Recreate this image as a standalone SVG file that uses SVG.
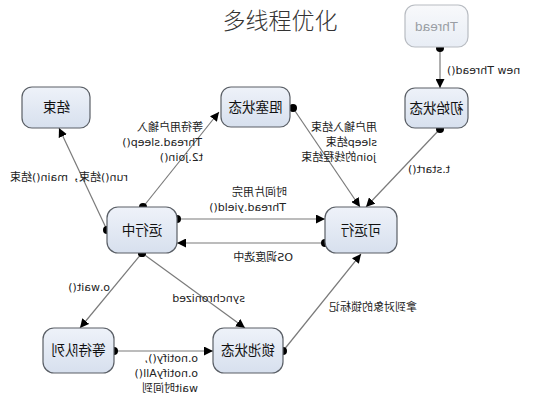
<svg xmlns="http://www.w3.org/2000/svg" width="560" height="400" viewBox="0 0 560 400">
<style>
text{font-family:"Liberation Sans","Noto Sans CJK SC",sans-serif;}
.mt{transform-box:fill-box;transform-origin:center;transform:scaleX(-1);}
.node rect{fill:url(#g);stroke:#5a5f66;stroke-width:1.2;}
.node text{font-size:13.5px;fill:#111;text-anchor:middle;}
.faded rect{fill:url(#gf);stroke:#b8bcc2;}
.faded text{fill:#9a9ea4;}
.edges line{stroke:#7a7a7a;stroke-width:1.2;marker-start:url(#dot);marker-end:url(#arr);}
.lbl{font-family:"DejaVu Sans","Noto Sans CJK SC",sans-serif;font-size:11px;fill:#222;}
.title{font-size:23px;fill:#333;text-anchor:middle;font-weight:300;}
</style>
<defs>
<linearGradient id="g" x1="0" y1="0" x2="0" y2="1"><stop offset="0" stop-color="#eef2f9"/><stop offset="1" stop-color="#d7e0ee"/></linearGradient>
<linearGradient id="gf" x1="0" y1="0" x2="0" y2="1"><stop offset="0" stop-color="#f8f9fb"/><stop offset="1" stop-color="#e8edf5"/></linearGradient>
<marker id="arr" viewBox="0 0 10 10" refX="10" refY="5" markerWidth="9" markerHeight="9" markerUnits="userSpaceOnUse" orient="auto"><path d="M0,0 L10,5 L0,10 z" fill="#000"/></marker>
<marker id="dot" viewBox="0 0 10 10" refX="5" refY="5" markerWidth="8" markerHeight="8" markerUnits="userSpaceOnUse"><circle cx="5" cy="5" r="5" fill="#000"/></marker>
</defs>
<rect width="560" height="400" fill="#fff"/>
<text class="title" x="280" y="29">多线程优化</text>

<g class="edges">
<line x1="440" y1="48" x2="440" y2="88"/>
<line x1="440" y1="129" x2="366" y2="207"/>
<line x1="293" y1="108" x2="360" y2="207"/>
<line x1="143" y1="207" x2="219" y2="112"/>
<line x1="107" y1="230" x2="59" y2="128"/>
<line x1="177" y1="219" x2="325" y2="219"/>
<line x1="325" y1="243" x2="177" y2="243"/>
<line x1="142" y1="253" x2="80" y2="328"/>
<line x1="142" y1="253" x2="245" y2="328"/>
<line x1="114" y1="351" x2="213" y2="351"/>
<line x1="283" y1="351" x2="361" y2="254"/>
</g>

<g id="thread" class="node faded"><rect x="405" y="5" width="63" height="42" rx="10"/><text class="mt" x="436.5" y="31">Thread</text></g>
<g id="init" class="node"><rect x="405" y="88" width="63" height="40" rx="10"/><text class="mt" x="436.5" y="113">初始状态</text></g>
<g id="blocked" class="node"><rect x="221" y="87" width="69" height="40" rx="10"/><text class="mt" x="255.5" y="112">阻塞状态</text></g>
<g id="end" class="node"><rect x="22" y="87" width="68" height="41" rx="10"/><text class="mt" x="56" y="112">结束</text></g>
<g id="running" class="node"><rect x="107" y="207" width="70" height="46" rx="11"/><text class="mt" x="142" y="235">运行中</text></g>
<g id="runnable" class="node"><rect x="325" y="207" width="72" height="46" rx="11"/><text class="mt" x="361" y="235">可运行</text></g>
<g id="waitq" class="node"><rect x="43" y="328" width="71" height="45" rx="11"/><text class="mt" x="78.5" y="355">等待队列</text></g>
<g id="lockpool" class="node"><rect x="213" y="328" width="70" height="45" rx="11"/><text class="mt" x="248" y="355">锁池状态</text></g>

<g id="labels">
<text class="lbl mt" x="447" y="74">new Thread()</text>
<text class="lbl mt" x="450" y="173" text-anchor="end">t.start()</text>
<text class="lbl mt" x="377" y="131" text-anchor="end">用户输入结束</text>
<text class="lbl mt" x="377" y="146" text-anchor="end">sleep结束</text>
<text class="lbl mt" x="377" y="161" text-anchor="end">join的线程结束</text>
<text class="lbl mt" x="203" y="131" text-anchor="end">等待用户输入</text>
<text class="lbl mt" x="203" y="146" text-anchor="end">Thread.sleep()</text>
<text class="lbl mt" x="203" y="161" text-anchor="end">t2.join()</text>
<text class="lbl mt" x="128" y="181" text-anchor="end">run()结束，main()结束</text>
<text class="lbl mt" x="287" y="196" text-anchor="end">时间片用完</text>
<text class="lbl mt" x="287" y="211" text-anchor="end">Thread.yield()</text>
<text class="lbl mt" x="293" y="261" text-anchor="end">OS调度选中</text>
<text class="lbl mt" x="110" y="291" text-anchor="end">o.wait()</text>
<text class="lbl mt" x="245" y="302" text-anchor="end">synchronized</text>
<text class="lbl mt" x="417" y="311" text-anchor="end">拿到对象的锁标记</text>
<text class="lbl mt" x="198" y="362" text-anchor="end">o.notify(),</text>
<text class="lbl mt" x="198" y="377" text-anchor="end">o.notifyAll()</text>
<text class="lbl mt" x="198" y="392" text-anchor="end">wait时间到</text>
</g>
</svg>
